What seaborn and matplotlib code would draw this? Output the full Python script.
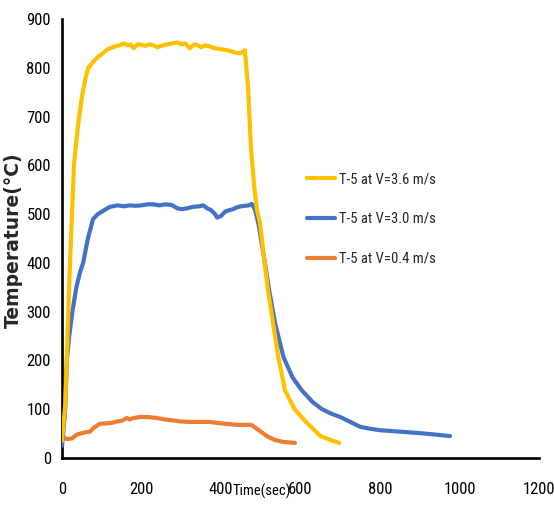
import matplotlib
matplotlib.use("Agg")
import matplotlib.pyplot as plt
import pandas as pd
import seaborn as sns
from matplotlib import font_manager
from matplotlib.font_manager import FontProperties

# Series labels and colours
series = ["T-5 at V=3.6 m/s", "T-5 at V=3.0 m/s", "T-5 at V=0.4 m/s"]
colors = ["#FFC000", "#4472C4", "#ED7D31"]

# T-5 at V=3.6 m/s
time_36 = [0, 4, 8, 12, 16, 20, 25, 30, 36, 43, 50, 58, 66, 78, 90, 103, 115, 130,
           145, 155, 165, 172, 180, 190, 200, 210, 220, 230, 240, 250, 260, 270, 280,
           290, 300, 310, 322, 332, 342, 350, 360, 370, 385, 400, 415, 430, 440, 448,
           455, 460, 468, 475, 483, 490, 498, 508, 518, 531, 544, 561, 585, 616, 650,
           675, 697]
temp_36 = [35, 70, 110, 200, 310, 400, 500, 600, 650, 700, 740, 775, 800, 812, 822, 830,
           838, 843, 846, 850, 846, 848, 840, 848, 847, 845, 848, 846, 842, 845, 847,
           849, 850, 852, 848, 850, 840, 848, 846, 842, 846, 844, 840, 838, 836, 833,
           830, 830, 833, 836, 760, 640, 560, 510, 481, 412, 344, 276, 207, 139, 100,
           72, 45, 37, 31]

# T-5 at V=3.0 m/s
time_30 = [0, 4, 8, 12, 18, 26, 36, 45, 53, 65, 78, 90, 100, 110, 121, 140, 155, 170,
           185, 200, 215, 230, 245, 260, 275, 290, 300, 315, 330, 345, 355, 365, 375,
           385, 390, 400, 410, 420, 430, 440, 450, 460, 470, 477, 485, 494, 508, 521,
           536, 557, 580, 603, 630, 654, 680, 700, 725, 750, 775, 800, 850, 900, 940,
           976]
temp_30 = [25, 60, 100, 200, 250, 300, 350, 380, 400, 450, 490, 500, 505, 510, 515, 518,
           516, 518, 517, 518, 520, 520, 518, 520, 519, 512, 510, 512, 515, 516, 518,
           512, 508, 500, 493, 496, 505, 508, 510, 514, 516, 517, 518, 521, 510, 481,
           412, 344, 276, 207, 165, 139, 115, 100, 90, 84, 74, 64, 60, 57, 54, 51, 48,
           45]

# T-5 at V=0.4 m/s
time_04 = [0, 5, 12, 25, 37, 50, 60, 70, 80, 95, 110, 125, 138, 150, 163, 170, 180, 196,
           215, 238, 260, 280, 297, 320, 350, 372, 390, 414, 440, 473, 478, 495, 515,
           535, 556, 586]
temp_04 = [41, 42, 39, 40, 48, 51, 53, 54, 62, 70, 71, 72, 75, 76, 82, 79, 82, 84, 84, 82,
           79, 77, 75, 74, 74, 74, 72, 70, 68, 68, 67, 57, 45, 37, 33, 31]

x_ticks = [0, 200, 400, 600, 800, 1000, 1200]
y_ticks = [0, 100, 200, 300, 400, 500, 600, 700, 800, 900]

frames = []
for name, t, v in zip(series, [time_36, time_30, time_04], [temp_36, temp_30, temp_04]):
    frames.append(pd.DataFrame({"Time": t, "Temperature": v, "Series": name}))
df = pd.concat(frames, ignore_index=True)

sns.set_theme(style="white")
plt.rcParams["font.family"] = ["Liberation Sans", "DejaVu Sans"]


def narrow_font():
    """Pick a condensed sans face if one is installed."""
    preferred = ["Liberation Sans Narrow", "Roboto Condensed", "Open Sans Condensed",
                 "Noto Sans", "Open Sans", "DejaVu Sans", "Roboto"]
    cands = []
    for f in font_manager.fontManager.ttflist:
        stretch = str(f.stretch).lower()
        is_narrow = ("condensed" in stretch or "narrow" in f.name.lower()
                     or "condensed" in f.name.lower()
                     or "condensed" in f.fname.lower() or "narrow" in f.fname.lower())
        if not is_narrow or f.style != "normal":
            continue
        if "extra" in f.fname.lower() or "ultra" in f.fname.lower() or "semi" in f.fname.lower():
            continue
        w = f.weight if isinstance(f.weight, int) else 400
        if w not in (400, "normal", "regular"):
            continue
        rank = next((i for i, p in enumerate(preferred) if f.name.startswith(p)), 99)
        cands.append((rank, f.fname))
    if cands:
        cands.sort()
        return cands[0][1]
    return None


narrow_path = narrow_font()
if narrow_path:
    tick_fp = FontProperties(fname=narrow_path, size=12)
    time_fp = FontProperties(fname=narrow_path, size=10.5)
    legend_fp = FontProperties(fname=narrow_path, size=10.5)
else:
    tick_fp = FontProperties(family="Liberation Sans", size=10.5)
    time_fp = FontProperties(family="Liberation Sans", size=9)
    legend_fp = FontProperties(family="Liberation Sans", size=9)

fig = plt.figure(figsize=(5.54, 5.08), dpi=100)
ax = fig.add_axes([0.112, 0.0984, 0.861, 0.8642])

for name, col, z in zip(reversed(series), reversed(colors), [2, 3, 4]):
    sns.lineplot(data=df[df["Series"] == name], x="Time", y="Temperature",
                 color=col, linewidth=3, sort=False, estimator=None,
                 ax=ax, zorder=z, label=name)

ax.set_xlim(0, 1200)
ax.set_ylim(0, 900)
ax.set_xticks(x_ticks)
ax.set_yticks(y_ticks)
ax.set_xticklabels([str(v) for v in x_ticks], fontproperties=tick_fp)
ax.set_yticklabels([str(v) for v in y_ticks], fontproperties=tick_fp)
ax.tick_params(axis="x", direction="out", length=6, width=1.8, pad=11, colors="black")
ax.tick_params(axis="y", direction="out", length=3, width=1.8, pad=5, colors="black")

for side in ["top", "right"]:
    ax.spines[side].set_visible(False)
for side in ["left", "bottom"]:
    ax.spines[side].set_color("black")
    ax.spines[side].set_linewidth(1.9)

ax.set_xlabel("")
ax.set_ylabel("Temperature(°C)", fontsize=13.5, fontweight="bold",
              family=["DejaVu Sans"])
ax.yaxis.set_label_coords(-0.082, 0.497)

ax.text(502, -0.077, "Time(sec)", transform=ax.get_xaxis_transform(),
        ha="center", va="center", fontproperties=time_fp, color="black")

handles, labels = ax.get_legend_handles_labels()
order = [labels.index(s) for s in series]
ax.legend([handles[i] for i in order], [labels[i] for i in order],
          loc="upper left", bbox_to_anchor=(0.486, 0.681), frameon=False,
          prop=legend_fp, handlelength=1.9, handletextpad=0.3, labelspacing=1.77)

fig.savefig("out.png", dpi=100)
